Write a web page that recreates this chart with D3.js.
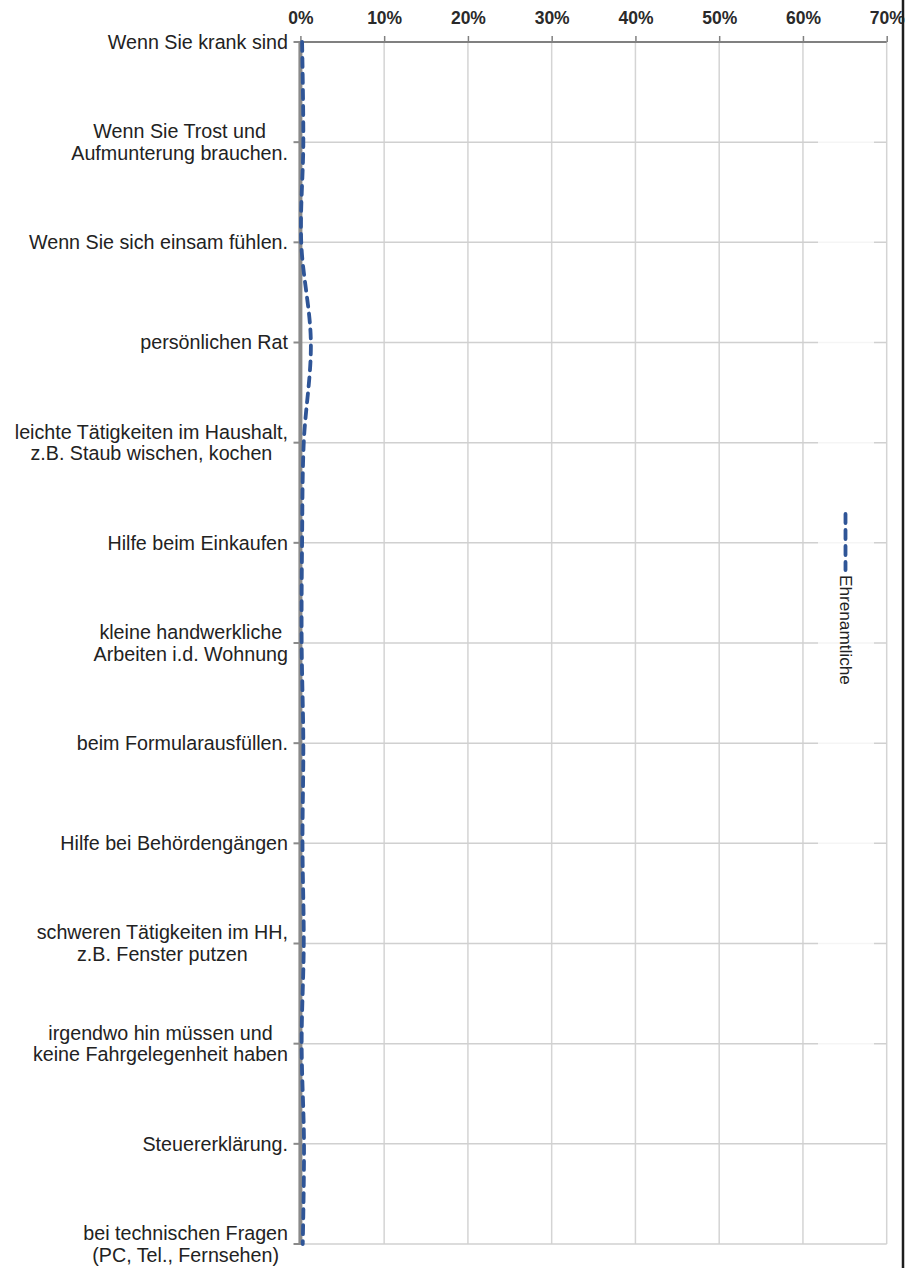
<!DOCTYPE html>
<html>
<head>
<meta charset="utf-8">
<script src="https://cdn.jsdelivr.net/npm/d3@7"></script>
<style>
  html, body { margin: 0; padding: 0; background: #fff; }
  svg { display: block; }
  text { font-family: "Liberation Sans", Arial, sans-serif; }
</style>
</head>
<body>
<svg id="chart" width="906" height="1268"></svg>
<script>
// ---- data ----
const categories = [
  ["Wenn Sie krank sind"],
  ["Wenn Sie Trost und", "Aufmunterung brauchen."],
  ["Wenn Sie sich einsam fühlen."],
  ["persönlichen Rat"],
  ["leichte Tätigkeiten im Haushalt,", "z.B. Staub wischen, kochen"],
  ["Hilfe beim Einkaufen"],
  ["kleine handwerkliche", "Arbeiten i.d. Wohnung"],
  ["beim Formularausfüllen."],
  ["Hilfe bei Behördengängen"],
  ["schweren Tätigkeiten im HH,", "z.B. Fenster putzen"],
  ["irgendwo hin müssen und", "keine Fahrgelegenheit haben"],
  ["Steuererklärung."],
  ["bei technischen Fragen", "(PC, Tel., Fernsehen)"]
];
const seriesName = "Ehrenamtliche";
const ehrenamtliche = [0.2, 0.35, 0.1, 1.25, 0.4, 0.2, 0.15, 0.35, 0.25, 0.4, 0.15, 0.43, 0.28];
const xTicks = [0, 10, 20, 30, 40, 50, 60, 70];

// ---- layout ----
const svg = d3.select("#chart");
const x = d3.scaleLinear().domain([0, 70]).range([300.4, 886.7]);
const y = d3.scalePoint().domain(d3.range(categories.length)).range([42, 1244]);

// vertical gridlines
svg.append("g").selectAll("line").data(xTicks.filter(d => d > 0)).join("line")
  .attr("x1", d => x(d)).attr("x2", d => x(d))
  .attr("y1", y(0)).attr("y2", y(categories.length - 1))
  .attr("stroke", "#d4d4d4").attr("stroke-width", 1.5);

// horizontal gridlines
svg.append("g").selectAll("line").data(d3.range(1, categories.length)).join("line")
  .attr("x1", x(0)).attr("x2", x(70))
  .attr("y1", d => y(d)).attr("y2", d => y(d))
  .attr("stroke", "#d0d0d0").attr("stroke-width", 1.5);

// legend background (semi-transparent)
svg.append("rect")
  .attr("x", 818).attr("y", 95).attr("width", 56).attr("height", 1000)
  .attr("fill", "#fff").attr("fill-opacity", 0.78);

// top axis
const topAxis = d3.axisTop(x).tickValues(xTicks).tickFormat(d => d + "%").tickSize(6).tickPadding(12);
const gTop = svg.append("g").attr("transform", `translate(0,${y(0)})`).call(topAxis);
gTop.select(".domain").attr("stroke", "#808080").attr("stroke-width", 2.2)
  .attr("d", `M${x(0)},0H${x(70)}`);
gTop.selectAll(".tick line").attr("stroke", "#808080").attr("stroke-width", 1.5);
gTop.selectAll(".tick text")
  .attr("font-family", "'Liberation Sans', Arial, sans-serif")
  .attr("font-size", 17.5).attr("font-weight", "bold").attr("fill", "#2a2a2a")
  .attr("dy", "0em");

// left axis
const gLeft = svg.append("g");
gLeft.selectAll("line.tick").data(d3.range(categories.length)).join("line")
  .attr("class", "tick")
  .attr("x1", 293.5).attr("x2", x(0))
  .attr("y1", d => y(d)).attr("y2", d => y(d))
  .attr("stroke", "#8a8a8a").attr("stroke-width", 2);
gLeft.append("line")
  .attr("x1", x(0)).attr("x2", x(0))
  .attr("y1", y(0) - 1).attr("y2", y(categories.length - 1) + 1)
  .attr("stroke", "#8a8a8a").attr("stroke-width", 4);

// category labels (wrapped lines centered, block right-aligned)
const labelRight = 288;
const lineH = 21.7;
const gLab = svg.append("g");
categories.forEach((lines, i) => {
  const t = gLab.append("text")
    .attr("font-size", 19.7).attr("fill", "#222").attr("text-anchor", "middle");
  const n = lines.length;
  lines.forEach((ln, j) => {
    t.append("tspan").attr("x", 0)
      .attr("y", y(i) + 6.8 + (j - (n - 1) / 2) * lineH)
      .text(ln);
  });
  let maxW = 0;
  t.selectAll("tspan").each(function () { maxW = Math.max(maxW, this.getComputedTextLength()); });
  const cx = labelRight - maxW / 2;
  t.selectAll("tspan").attr("x", cx);
});

// series line
const line = d3.line()
  .x(d => x(d))
  .y((d, i) => y(i))
  .curve(d3.curveCatmullRom.alpha(0.5));
svg.append("path")
  .datum(ehrenamtliche)
  .attr("d", line)
  .attr("fill", "none")
  .attr("stroke", "#2f5597")
  .attr("stroke-width", 3.8)
  .attr("stroke-dasharray", "9,7")
  .attr("stroke-linecap", "round");

// legend
const gLeg = svg.append("g");
gLeg.append("line")
  .attr("x1", 845.5).attr("x2", 845.5).attr("y1", 514).attr("y2", 570)
  .attr("stroke", "#2f5597").attr("stroke-width", 3.8)
  .attr("stroke-dasharray", "9,7").attr("stroke-linecap", "round");
gLeg.append("text")
  .attr("transform", "translate(839.5,575) rotate(90)")
  .attr("font-size", 17.2).attr("fill", "#222")
  .text(seriesName);

// right border
svg.append("line")
  .attr("x1", 903).attr("x2", 903).attr("y1", 0).attr("y2", 1268)
  .attr("stroke", "#1e1e1e").attr("stroke-width", 2.5);
</script>
</body>
</html>
